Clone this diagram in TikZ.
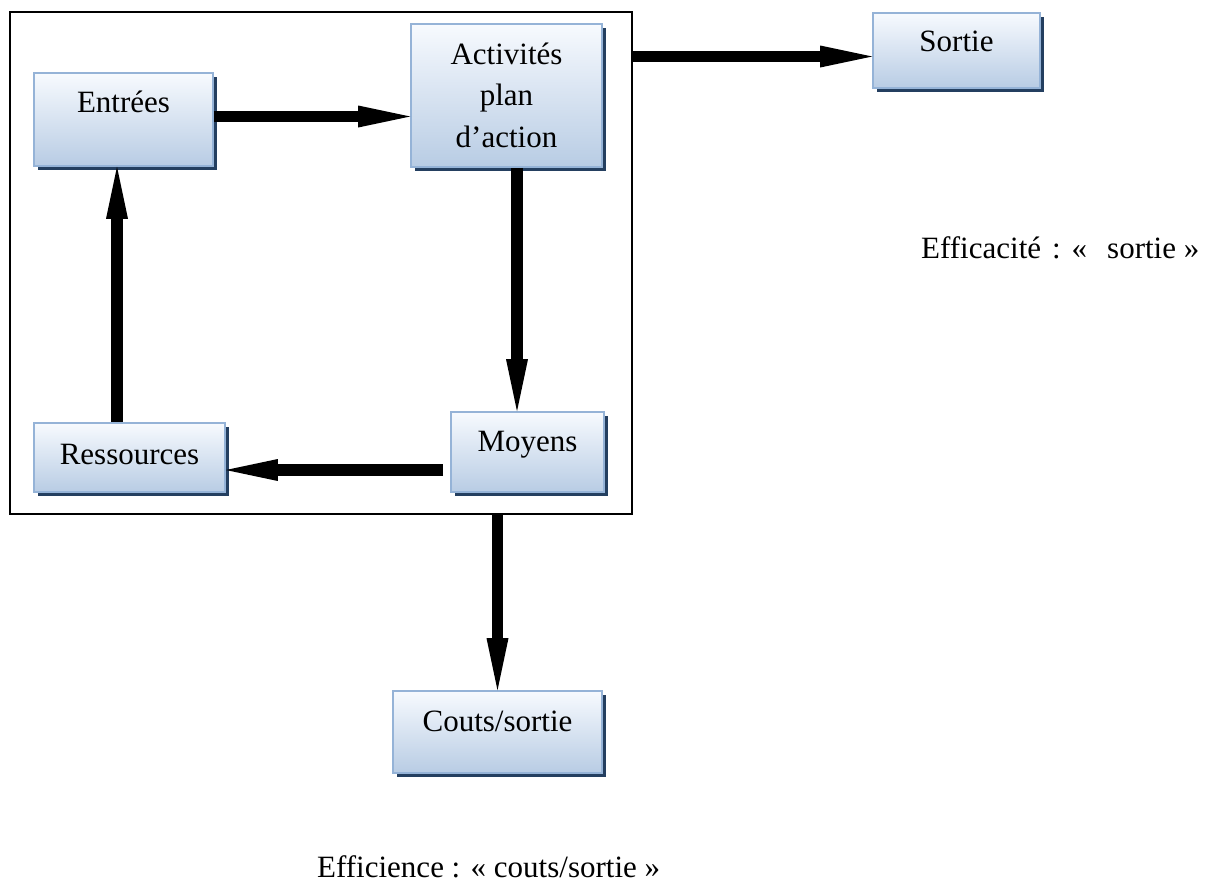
\documentclass[tikz,border=0pt]{standalone}
\usepackage{fontspec}
\setmainfont{Liberation Serif}
\usetikzlibrary{arrows.meta,shadows,calc}
\definecolor{boxtop}{RGB}{247,250,254}
\definecolor{boxbot}{RGB}{184,204,228}
\definecolor{boxline}{RGB}{149,179,215}
\definecolor{boxshadow}{RGB}{36,63,96}
\begin{document}
\begin{tikzpicture}[x=1pt,y=-1pt,
  stepbox/.style={draw=boxline, line width=1.6pt, top color=boxtop, bottom color=boxbot,
    inner sep=0pt, drop shadow={shadow xshift=4pt, shadow yshift=-4pt, fill=boxshadow, opacity=1}},
  boxtext/.style={anchor=base, inner sep=0pt, font=\fontsize{31}{41.5}\selectfont, align=center},
  caption/.style={anchor=base west, inner sep=0pt, font=\fontsize{31}{38}\selectfont},
  arr/.style={line width=11.5pt, -{Triangle[length=52pt,width=22pt,line width=0pt]}}]
\useasboundingbox (0,0) rectangle (1215,884);

% outer frame around the internal loop
\node[draw=black, line width=1.6pt, minimum width=622pt, minimum height=502pt, inner sep=0pt] (frame) at (321,263) {};

% boxes
\node[stepbox, minimum width=179pt, minimum height=93pt]  (entrees) at (123.5,119.5) {};
\node[stepbox, minimum width=191pt, minimum height=143pt] (activ)   at (506.5,95.5) {};
\node[stepbox, minimum width=167pt, minimum height=75pt]  (sortie)  at (956.5,50.5) {};
\node[stepbox, minimum width=191pt, minimum height=69pt]  (ress)    at (129.5,457.5) {};
\node[stepbox, minimum width=153pt, minimum height=80pt]  (moyens)  at (527.5,452) {};
\node[stepbox, minimum width=209pt, minimum height=82pt]  (couts)   at (497.5,732) {};

% box texts, set from the top edge of each box (multi-line text sits on its last line)
\node[boxtext] (entrees-t) at ($(entrees.north)+(0,40)$) {Entrées};
\node[boxtext] (activ-t)   at ($(activ.north)+(0,124)$)  {Activités\\plan\\d’action};
\node[boxtext] (sortie-t)  at ($(sortie.north)+(0,39)$)  {Sortie};
\node[boxtext] (ress-t)    at ($(ress.north)+(0,42)$)    {Ressources};
\node[boxtext] (moyens-t)  at ($(moyens.north)+(0,40)$)  {Moyens};
\node[boxtext] (couts-t)   at ($(couts.north)+(0,41)$)   {Couts/sortie};

% captions
\node[caption] (efficacite) at (921,258) {Efficacité\hspace{11pt}:\hspace{11pt}«\hspace{20pt}sortie »};
\node[caption] (efficience) at (317,877) {Efficience : « couts/sortie »};

% connectors
\draw[arr] (entrees.east |- 0,116.5) -- (activ.west |- 0,116.5);
\draw[arr] (activ.south -| 517,0) -- (moyens.north -| 517,0);
\draw[arr] (moyens.west) ++(-7,18) -- (ress.east |- 0,470);
\draw[arr] (ress.north -| 117,0) -- (entrees.south -| 117,0);
\draw[arr] (frame.east |- 0,56.5) -- (sortie.west |- 0,56.5);
\draw[arr] (frame.south -| couts.north) -- (couts.north);
\end{tikzpicture}
\end{document}
